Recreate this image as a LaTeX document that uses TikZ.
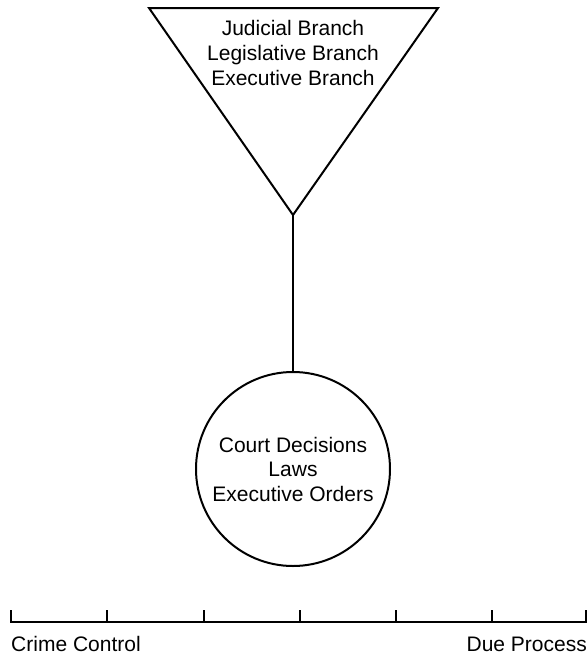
\documentclass[tikz,border=0pt]{standalone}
\usepackage{fontspec}
\setmainfont{Liberation Sans}
\begin{document}
\begin{tikzpicture}[x=1pt,y=-1pt,
  outline/.style={line width=2pt, line join=miter},
  label/.style={font=\fontsize{21}{24.5}\selectfont, inner sep=0pt},
  lineitem/.style={label, anchor=base},
  tickmark/.style={line width=2pt}]
\useasboundingbox (0,0) rectangle (587,656);

% source of authority
\coordinate (tl) at (149,8);
\coordinate (tr) at (438,8);
\coordinate (apex) at (293,215);
\draw[outline] (tl) -- (tr) -- (apex) -- cycle;
\node[lineitem] (jud) at (293,35) {Judicial Branch};
\node[lineitem] (leg) at (293,60) {Legislative Branch};
\node[lineitem] (exe) at (293,85) {Executive Branch};

% outputs
\node[outline, draw, circle, minimum size=194pt, label, align=center]
  (out) at (293,469) {Court Decisions\\Laws\\Executive Orders};
\draw[outline] (apex) -- (out.north);

% crime control / due process scale
\coordinate (s0) at (11,622);
\coordinate (s6) at (586,622);
\draw[tickmark, line cap=rect] (s0) -- (s6);
\foreach \x in {11,107,203.5,299.5,395.5,491.5,586}
  \draw[tickmark] (\x,622) -- (\x,610);
\node[lineitem, anchor=base west] (cc) at (11,651) {Crime Control};
\node[lineitem, anchor=base east] (dp) at (587,651) {Due Process};
\end{tikzpicture}
\end{document}
